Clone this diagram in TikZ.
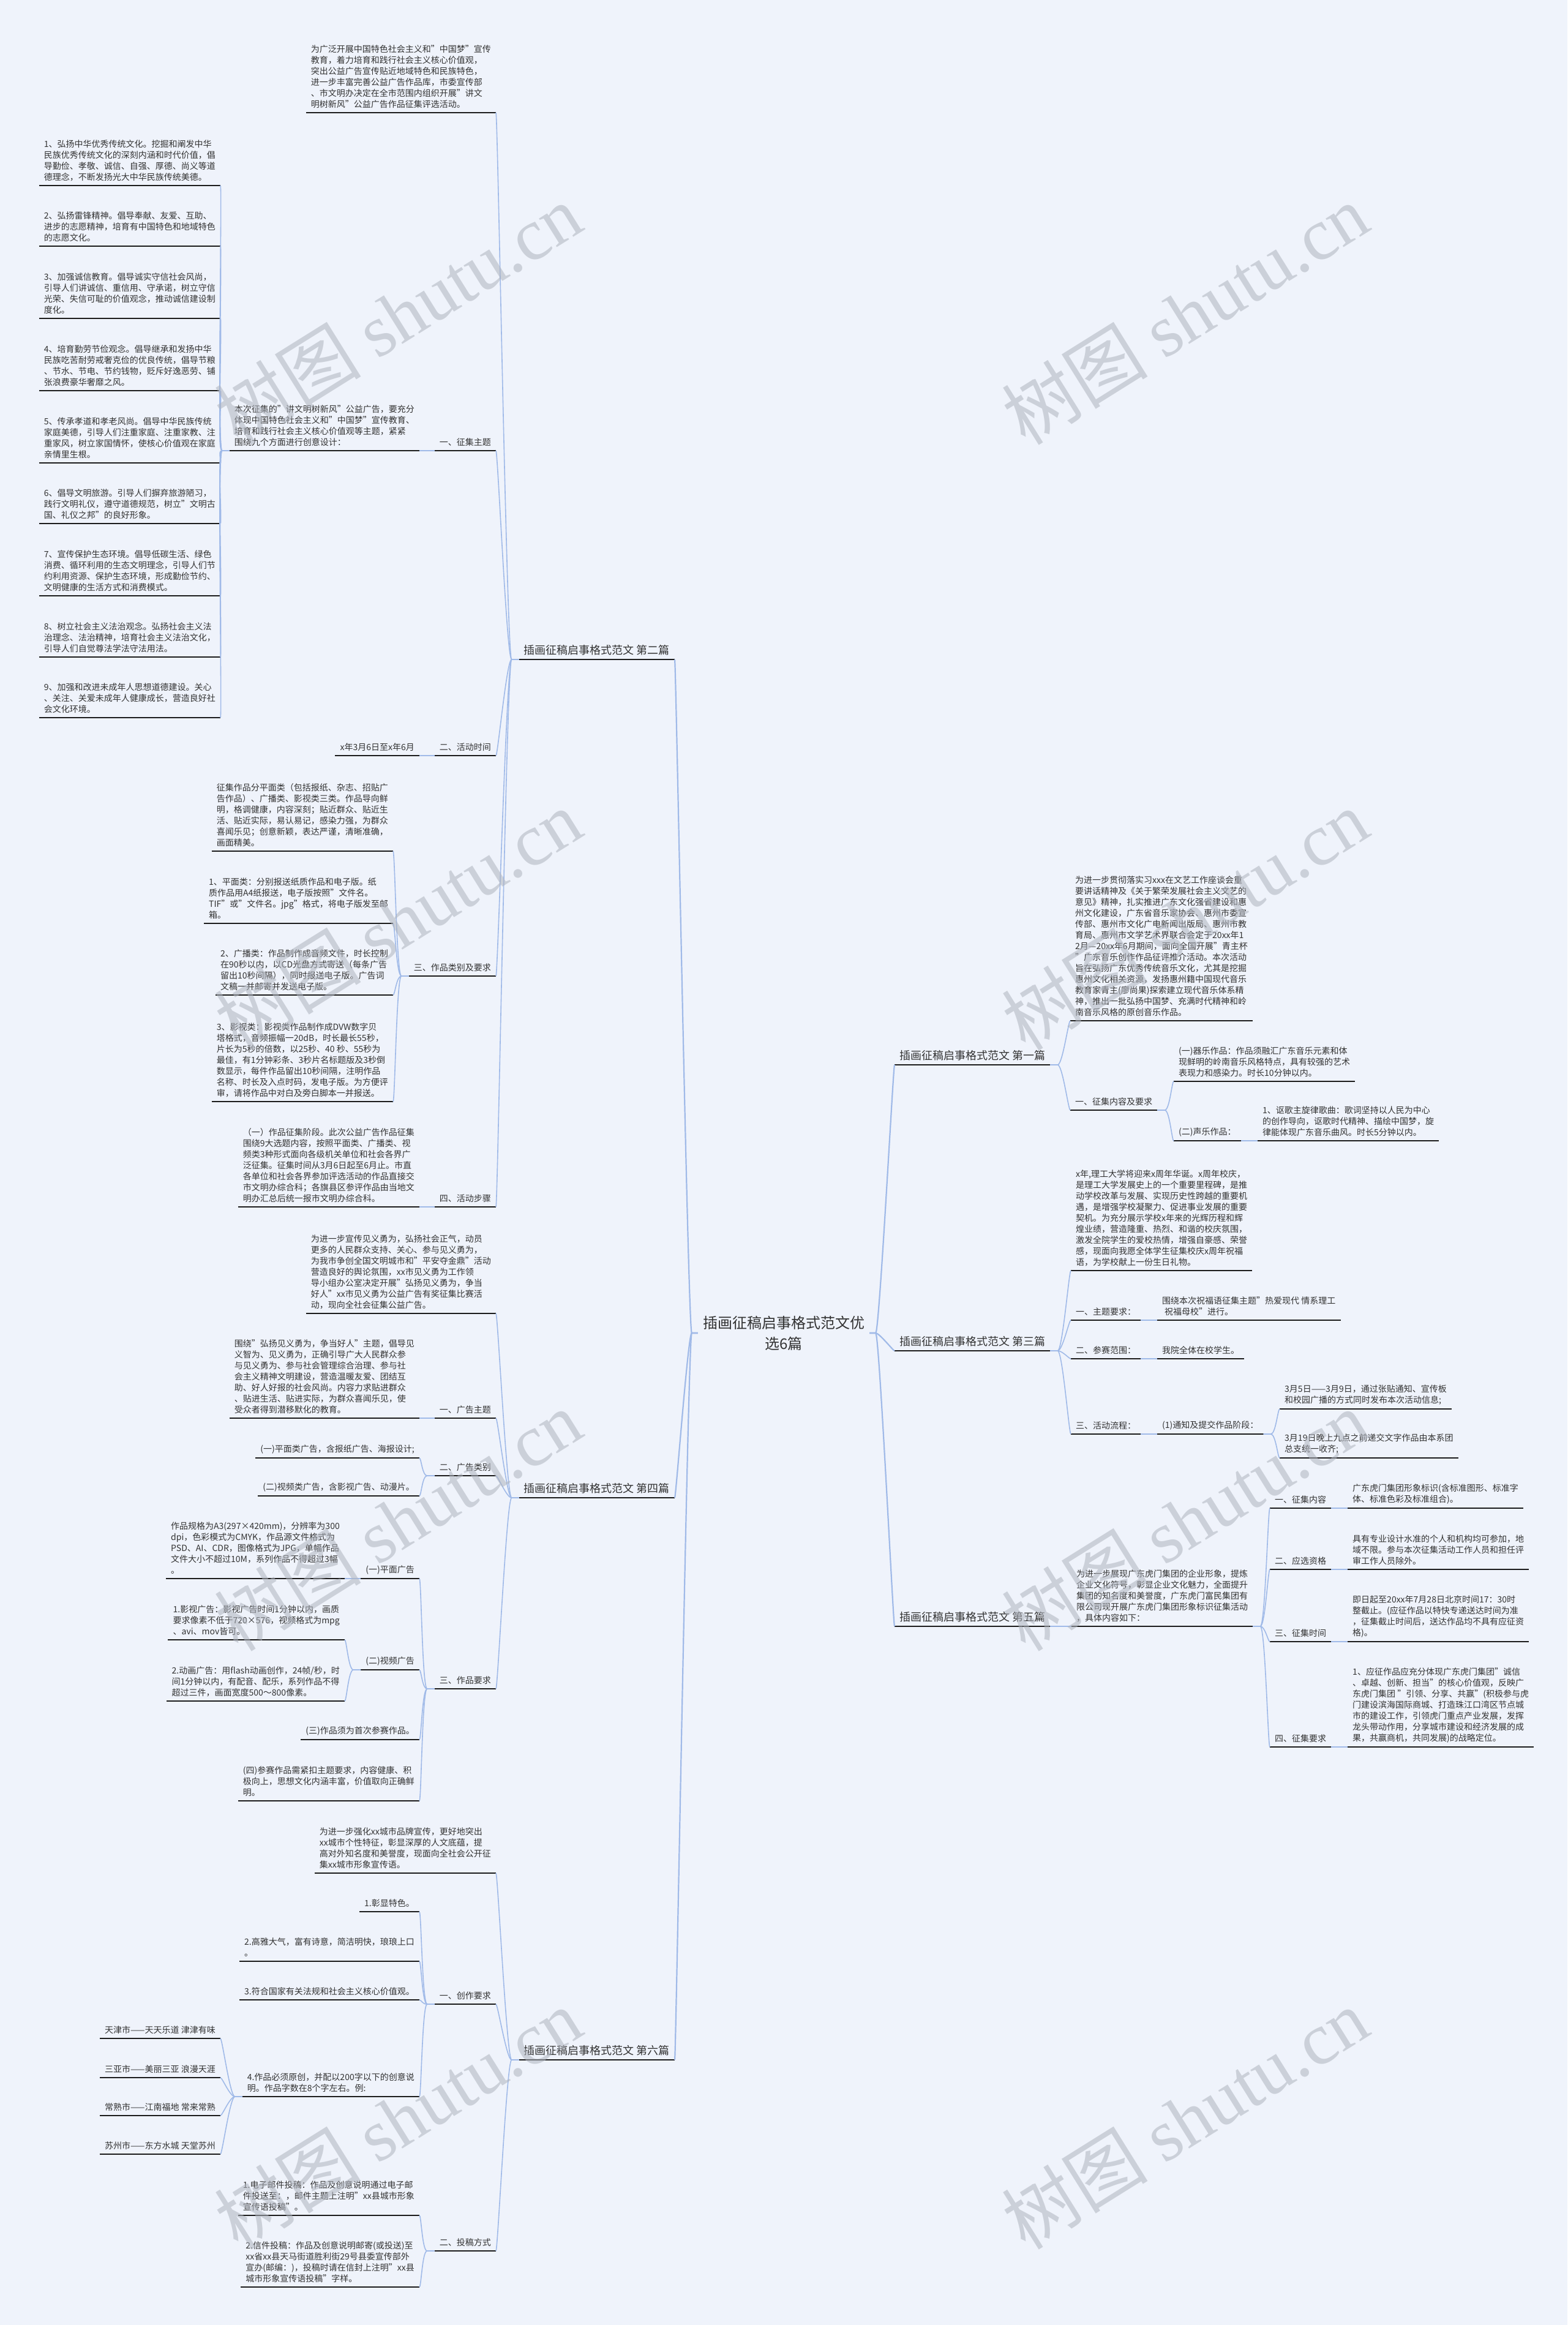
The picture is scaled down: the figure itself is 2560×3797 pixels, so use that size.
\documentclass[tikz,border=0pt]{standalone}
\usepackage{fontspec}
\setmainfont{Noto Sans CJK SC}
\newfontfamily\wmfont{Liberation Serif}
\usepackage{xcolor}
\definecolor{fundo}{RGB}{239,243,251}
\definecolor{traco}{RGB}{28,28,28}
\definecolor{ramo}{RGB}{160,186,232}
\definecolor{texto}{RGB}{50,50,50}
\definecolor{marca}{RGB}{175,180,190}
\usetikzlibrary{calc,positioning}

% ligacoes: pai -> filho, a esquerda e a direita
\newcommand\ligaE[2]{\draw[link] (#1.south west) -- ++(-12,0) .. controls +(-8,0) and +(3,0) .. (#2.south east);}
\newcommand\ligaD[2]{\draw[link] (#1.south east) -- ++(12,0) .. controls +(8,0) and +(-3,0) .. (#2.south west);}

\begin{document}
\begin{tikzpicture}[x=1pt,y=-1pt,
    uline/.style={draw=traco,line width=2.6pt},
    link/.style={draw=ramo,line width=1.6pt},
    folha/.style={align=left,inner xsep=8pt,inner ysep=7pt,text=texto,
      font=\fontsize{14}{18}\selectfont,
      append after command={(\tikzlastnode.south west) edge[uline] (\tikzlastnode.south east)}},
    esq/.style={folha,anchor=south east},
    dir/.style={folha,anchor=south west},
    capE/.style={esq,font=\fontsize{18}{22}\selectfont},
    capD/.style={dir,font=\fontsize{18}{22}\selectfont},
    marcad/.style={text=marca,opacity=0.55,rotate=32,font=\fontsize{120}{120}\selectfont}]
  \useasboundingbox (0,0) rectangle (2560,3797);
  \fill[fundo] (0,0) rectangle (2560,3797);

  % raiz
  \node[align=center,text=texto,font=\fontsize{24}{34}\selectfont,inner sep=8pt] (root) at (1280,2177)
    {插画征稿启事格式范文优\\选6篇};

  % ---------------- 第二篇 ----------------
  \node[capE] (b2) at (1102,1077) {插画征稿启事格式范文 第二篇};
  \node[esq] (n2i) at (810,184) {为广泛开展中国特色社会主义和"中国梦"宣传\\教育，着力培育和践行社会主义核心价值观，\\突出公益广告宣传贴近地域特色和民族特色，\\进一步丰富完善公益广告作品库，市委宣传部\\、市文明办决定在全市范围内组织开展"讲文\\明树新风"公益广告作品征集评选活动。};
  \node[esq] (n2a) at (810,736) {一、征集主题};
  \node[esq] (n2a1) at (685,736) {本次征集的"讲文明树新风"公益广告，要充分\\体现中国特色社会主义和"中国梦"宣传教育、\\培育和践行社会主义核心价值观等主题，紧紧\\围绕九个方面进行创意设计：};
  \node[esq] (it1) at (360,303) {1、弘扬中华优秀传统文化。挖掘和阐发中华\\民族优秀传统文化的深刻内涵和时代价值，倡\\导勤俭、孝敬、诚信、自强、厚德、尚义等道\\德理念，不断发扬光大中华民族传统美德。};
  \node[esq] (it2) at (360,402) {2、弘扬雷锋精神。倡导奉献、友爱、互助、\\进步的志愿精神，培育有中国特色和地域特色\\的志愿文化。};
  \node[esq] (it3) at (360,520) {3、加强诚信教育。倡导诚实守信社会风尚，\\引导人们讲诚信、重信用、守承诺，树立守信\\光荣、失信可耻的价值观念，推动诚信建设制\\度化。};
  \node[esq] (it4) at (360,638) {4、培育勤劳节俭观念。倡导继承和发扬中华\\民族吃苦耐劳戒奢克俭的优良传统，倡导节粮\\、节水、节电、节约钱物，贬斥好逸恶劳、铺\\张浪费豪华奢靡之风。};
  \node[esq] (it5) at (360,756) {5、传承孝道和孝老风尚。倡导中华民族传统\\家庭美德，引导人们注重家庭、注重家教、注\\重家风，树立家国情怀，使核心价值观在家庭\\亲情里生根。};
  \node[esq] (it6) at (360,855) {6、倡导文明旅游。引导人们摒弃旅游陋习，\\践行文明礼仪，遵守道德规范，树立"文明古\\国、礼仪之邦"的良好形象。};
  \node[esq] (it7) at (360,973) {7、宣传保护生态环境。倡导低碳生活、绿色\\消费、循环利用的生态文明理念，引导人们节\\约利用资源、保护生态环境，形成勤俭节约、\\文明健康的生活方式和消费模式。};
  \node[esq] (it8) at (360,1073) {8、树立社会主义法治观念。弘扬社会主义法\\治理念、法治精神，培育社会主义法治文化，\\引导人们自觉尊法学法守法用法。};
  \node[esq] (it9) at (360,1172) {9、加强和改进未成年人思想道德建设。关心\\、关注、关爱未成年人健康成长，营造良好社\\会文化环境。};
  \node[esq] (n2b) at (810,1234) {二、活动时间};
  \node[esq] (n2b1) at (685,1234) {x年3月6日至x年6月};
  \node[esq] (n2c) at (810,1594) {三、作品类别及要求};
  \node[esq] (c1) at (642,1390) {征集作品分平面类（包括报纸、杂志、招贴广\\告作品）、广播类、影视类三类。作品导向鲜\\明，格调健康，内容深刻；贴近群众、贴近生\\活、贴近实际，易认易记，感染力强，为群众\\喜闻乐见；创意新颖，表达严谨，清晰准确，\\画面精美。};
  \node[esq] (c2) at (642,1508) {1、平面类：分别报送纸质作品和电子版。纸\\质作品用A4纸报送，电子版按照"文件名。\\TIF"或"文件名。jpg"格式，将电子版发至邮\\箱。};
  \node[esq] (c3) at (642,1625) {2、广播类：作品制作成音频文件，时长控制\\在90秒以内，以CD光盘方式寄送（每条广告\\留出10秒间隔），同时报送电子版。广告词\\文稿一并邮寄并发送电子版。};
  \node[esq] (c4) at (642,1799) {3、影视类：影视类作品制作成DVW数字贝\\塔格式，音频振幅一20dB，时长最长55秒，\\片长为5秒的倍数，以25秒、40 秒、55秒为\\最佳，有1分钟彩条、3秒片名标题版及3秒倒\\数显示，每件作品留出10秒间隔，注明作品\\名称、时长及入点时码，发电子版。为方便评\\审，请将作品中对白及旁白脚本一并报送。};
  \node[esq] (n2d) at (810,1971) {四、活动步骤};
  \node[esq] (n2d1) at (685,1971) {（一）作品征集阶段。此次公益广告作品征集\\围绕9大选题内容，按照平面类、广播类、视\\频类3种形式面向各级机关单位和社会各界广\\泛征集。征集时间从3月6日起至6月止。市直\\各单位和社会各界参加评选活动的作品直接交\\市文明办综合科；各旗县区参评作品由当地文\\明办汇总后统一报市文明办综合科。};

  % ---------------- 第四篇 ----------------
  \node[capE] (b4) at (1102,2446) {插画征稿启事格式范文 第四篇};
  \node[esq] (n4i) at (810,2145) {为进一步宣传见义勇为，弘扬社会正气，动员\\更多的人民群众支持、关心、参与见义勇为，\\为我市争创全国文明城市和"平安夺金鼎"活动\\营造良好的舆论氛围，xx市见义勇为工作领\\导小组办公室决定开展"弘扬见义勇为，争当\\好人"xx市见义勇为公益广告有奖征集比赛活\\动，现向全社会征集公益广告。};
  \node[esq] (n4a) at (810,2316) {一、广告主题};
  \node[esq] (n4a1) at (685,2316) {围绕"弘扬见义勇为，争当好人"主题，倡导见\\义智为、见义勇为，正确引导广大人民群众参\\与见义勇为、参与社会管理综合治理、参与社\\会主义精神文明建设，营造温暖友爱、团结互\\助、好人好报的社会风尚。内容力求贴进群众\\、贴进生活、贴进实际，为群众喜闻乐见，使\\受众者得到潜移默化的教育。};
  \node[esq] (n4b) at (810,2410) {二、广告类别};
  \node[esq] (n4b1) at (685,2381) {(一)平面类广告，含报纸广告、海报设计;};
  \node[esq] (n4b2) at (685,2443) {(二)视频类广告，含影视广告、动漫片。};
  \node[esq] (n4c) at (810,2758) {三、作品要求};
  \node[esq] (n4c1) at (685,2578) {(一)平面广告};
  \node[esq] (n4c1a) at (563,2578) {作品规格为A3(297×420mm)，分辨率为300\\dpi，色彩模式为CMYK，作品源文件格式为\\PSD、AI、CDR，图像格式为JPG，单幅作品\\文件大小不超过10M，系列作品不得超过3幅\\。};
  \node[esq] (n4c2) at (685,2727) {(二)视频广告};
  \node[esq] (n4c2a) at (563,2678) {1.影视广告：影视广告时间1分钟以内，画质\\要求像素不低于720×576，视频格式为mpg\\、avi、mov皆可。};
  \node[esq] (n4c2b) at (563,2778) {2.动画广告：用flash动画创作，24帧/秒，时\\间1分钟以内，有配音、配乐，系列作品不得\\超过三件，画面宽度500～800像素。};
  \node[esq] (n4c3) at (685,2841) {(三)作品须为首次参赛作品。};
  \node[esq] (n4c4) at (685,2941) {(四)参赛作品需紧扣主题要求，内容健康、积\\极向上，思想文化内涵丰富，价值取向正确鲜\\明。};

  % ---------------- 第六篇 ----------------
  \node[capE] (b6) at (1102,3364) {插画征稿启事格式范文 第六篇};
  \node[esq] (n6i) at (810,3059) {为进一步强化xx城市品牌宣传，更好地突出\\xx城市个性特征，彰显深厚的人文底蕴，提\\高对外知名度和美誉度，现面向全社会公开征\\集xx城市形象宣传语。};
  \node[esq] (n6a) at (810,3273) {一、创作要求};
  \node[esq] (n6a1) at (685,3122) {1.彰显特色。};
  \node[esq] (n6a2) at (685,3203) {2.高雅大气，富有诗意，简洁明快，琅琅上口\\。};
  \node[esq] (n6a3) at (685,3266) {3.符合国家有关法规和社会主义核心价值观。};
  \node[esq] (n6a4) at (685,3424) {4.作品必须原创，并配以200字以下的创意说\\明。作品字数在8个字左右。例:};
  \node[esq] (ex1) at (360,3329) {天津市——天天乐道 津津有味};
  \node[esq] (ex2) at (360,3393) {三亚市——美丽三亚 浪漫天涯};
  \node[esq] (ex3) at (360,3455) {常熟市——江南福地 常来常熟};
  \node[esq] (ex4) at (360,3518) {苏州市——东方水城 天堂苏州};
  \node[esq] (n6b) at (810,3676) {二、投稿方式};
  \node[esq] (n6b1) at (685,3618) {1.电子邮件投稿：作品及创意说明通过电子邮\\件投送至：，邮件主题上注明"xx县城市形象\\宣传语投稿"。};
  \node[esq] (n6b2) at (685,3735) {2.信件投稿：作品及创意说明邮寄(或投送)至\\xx省xx县天马街道胜利街29号县委宣传部外\\宣办(邮编：)，投稿时请在信封上注明"xx县\\城市形象宣传语投稿"字样。};

  % ---------------- 第一篇 ----------------
  \node[capD] (b1) at (1461,1739) {插画征稿启事格式范文 第一篇};
  \node[dir] (n1i) at (1748,1667) {为进一步贯彻落实习xxx在文艺工作座谈会重\\要讲话精神及《关于繁荣发展社会主义文艺的\\意见》精神，扎实推进广东文化强省建设和惠\\州文化建设，广东省音乐家协会、惠州市委宣\\传部、惠州市文化广电新闻出版局、惠州市教\\育局、惠州市文学艺术界联合会定于20xx年1\\2月—20xx年6月期间，面向全国开展"青主杯\\"广东音乐创作作品征评推介活动。本次活动\\旨在弘扬广东优秀传统音乐文化，尤其是挖掘\\惠州文化相关资源，发扬惠州籍中国现代音乐\\教育家青主(廖尚果)探索建立现代音乐体系精\\神，推出一批弘扬中国梦、充满时代精神和岭\\南音乐风格的原创音乐作品。};
  \node[dir] (n1a) at (1748,1813) {一、征集内容及要求};
  \node[dir] (n1a1) at (1917,1766) {(一)器乐作品：作品须融汇广东音乐元素和体\\现鲜明的岭南音乐风格特点，具有较强的艺术\\表现力和感染力。时长10分钟以内。};
  \node[dir] (n1a2) at (1917,1863) {(二)声乐作品：};
  \node[dir] (n1a2a) at (2054,1863) {1、讴歌主旋律歌曲：歌词坚持以人民为中心\\的创作导向，讴歌时代精神、描绘中国梦，旋\\律能体现广东音乐曲风。时长5分钟以内。};

  % ---------------- 第三篇 ----------------
  \node[capD] (b3) at (1461,2206) {插画征稿启事格式范文 第三篇};
  \node[dir] (n3i) at (1749,2075) {x年,理工大学将迎来x周年华诞。x周年校庆，\\是理工大学发展史上的一个重要里程碑，是推\\动学校改革与发展、实现历史性跨越的重要机\\遇，是增强学校凝聚力、促进事业发展的重要\\契机。为充分展示学校x年来的光辉历程和辉\\煌业绩，营造隆重、热烈、和谐的校庆氛围，\\激发全院学生的爱校热情，增强自豪感、荣誉\\感，现面向我愿全体学生征集校庆x周年祝福\\语，为学校献上一份生日礼物。};
  \node[dir] (n3a) at (1749,2156) {一、主题要求：};
  \node[dir] (n3a1) at (1890,2156) {围绕本次祝福语征集主题"热爱现代 情系理工\\\hspace{4pt}祝福母校"进行。};
  \node[dir] (n3b) at (1749,2219) {二、参赛范围：};
  \node[dir] (n3b1) at (1890,2219) {我院全体在校学生。};
  \node[dir] (n3c) at (1749,2342) {三、活动流程：};
  \node[dir] (n3c1) at (1890,2342) {(1)通知及提交作品阶段：};
  \node[dir] (n3c1a) at (2090,2301) {3月5日——3月9日，通过张贴通知、宣传板\\和校园广播的方式同时发布本次活动信息;};
  \node[dir] (n3c1b) at (2090,2381) {3月19日晚上九点之前递交文字作品由本系团\\总支统一收齐;};

  % ---------------- 第五篇 ----------------
  \node[capD] (b5) at (1461,2656) {插画征稿启事格式范文 第五篇};
  \node[dir] (n5i) at (1750,2656) {为进一步展现广东虎门集团的企业形象，提炼\\企业文化符号，彰显企业文化魅力，全面提升\\集团的知名度和美誉度，广东虎门富民集团有\\限公司现开展广东虎门集团形象标识征集活动\\，具体内容如下：};
  \node[dir] (n5a) at (2074,2463) {一、征集内容};
  \node[dir] (n5a1) at (2201,2463) {广东虎门集团形象标识(含标准图形、标准字\\体、标准色彩及标准组合)。};
  \node[dir] (n5b) at (2074,2563) {二、应选资格};
  \node[dir] (n5b1) at (2201,2563) {具有专业设计水准的个人和机构均可参加，地\\域不限。参与本次征集活动工作人员和担任评\\审工作人员除外。};
  \node[dir] (n5c) at (2074,2681) {三、征集时间};
  \node[dir] (n5c1) at (2201,2681) {即日起至20xx年7月28日北京时间17：30时\\整截止。(应征作品以特快专递送达时间为准\\，征集截止时间后，送达作品均不具有应征资\\格)。};
  \node[dir] (n5d) at (2074,2853) {四、征集要求};
  \node[dir] (n5d1) at (2201,2853) {1、应征作品应充分体现广东虎门集团"诚信\\、卓越、创新、担当"的核心价值观，反映广\\东虎门集团 "引领、分享、共赢"(积极参与虎\\门建设滨海国际商城、打造珠江口湾区节点城\\市的建设工作，引领虎门重点产业发展，发挥\\龙头带动作用，分享城市建设和经济发展的成\\果，共赢商机，共同发展)的战略定位。};

  % ligacoes da raiz
  \foreach \b in {b2,b4,b6}
    \draw[link,line width=2.2pt] (root.west) -- ++(-10,0) .. controls +(-6,0) and +(2,0) .. (\b.south east);
  \foreach \b in {b1,b3,b5}
    \draw[link,line width=2.2pt] (root.east) -- ++(10,0) .. controls +(6,0) and +(-2,0) .. (\b.south west);

  % ligacoes da esquerda
  \foreach \f in {n2i,n2a,n2b,n2c,n2d} {\ligaE{b2}{\f}}
  \foreach \f in {it1,it2,it3,it4,it5,it6,it7,it8,it9} {\ligaE{n2a1}{\f}}
  \ligaE{n2a}{n2a1}
  \ligaE{n2b}{n2b1}
  \foreach \f in {c1,c2,c3,c4} {\ligaE{n2c}{\f}}
  \ligaE{n2d}{n2d1}
  \foreach \f in {n4i,n4a,n4b,n4c} {\ligaE{b4}{\f}}
  \ligaE{n4a}{n4a1}
  \ligaE{n4b}{n4b1}
  \ligaE{n4b}{n4b2}
  \foreach \f in {n4c1,n4c2,n4c3,n4c4} {\ligaE{n4c}{\f}}
  \ligaE{n4c1}{n4c1a}
  \ligaE{n4c2}{n4c2a}
  \ligaE{n4c2}{n4c2b}
  \foreach \f in {n6i,n6a,n6b} {\ligaE{b6}{\f}}
  \foreach \f in {n6a1,n6a2,n6a3,n6a4} {\ligaE{n6a}{\f}}
  \foreach \f in {ex1,ex2,ex3,ex4} {\ligaE{n6a4}{\f}}
  \ligaE{n6b}{n6b1}
  \ligaE{n6b}{n6b2}

  % ligacoes da direita
  \ligaD{b1}{n1i}
  \ligaD{b1}{n1a}
  \ligaD{n1a}{n1a1}
  \ligaD{n1a}{n1a2}
  \ligaD{n1a2}{n1a2a}
  \foreach \f in {n3i,n3a,n3b,n3c} {\ligaD{b3}{\f}}
  \ligaD{n3a}{n3a1}
  \ligaD{n3b}{n3b1}
  \ligaD{n3c}{n3c1}
  \ligaD{n3c1}{n3c1a}
  \ligaD{n3c1}{n3c1b}
  \ligaD{b5}{n5i}
  \foreach \f in {n5a,n5b,n5c,n5d} {\ligaD{n5i}{\f}}
  \ligaD{n5a}{n5a1}
  \ligaD{n5b}{n5b1}
  \ligaD{n5c}{n5c1}
  \ligaD{n5d}{n5d1}

  % marca d'agua
  \foreach \x in {650,1935}
    \foreach \y in {513,1502,2483,3460}
      \node[marcad] at (\x,\y) {树图 {\wmfont shutu.cn}};
\end{tikzpicture}
\end{document}
